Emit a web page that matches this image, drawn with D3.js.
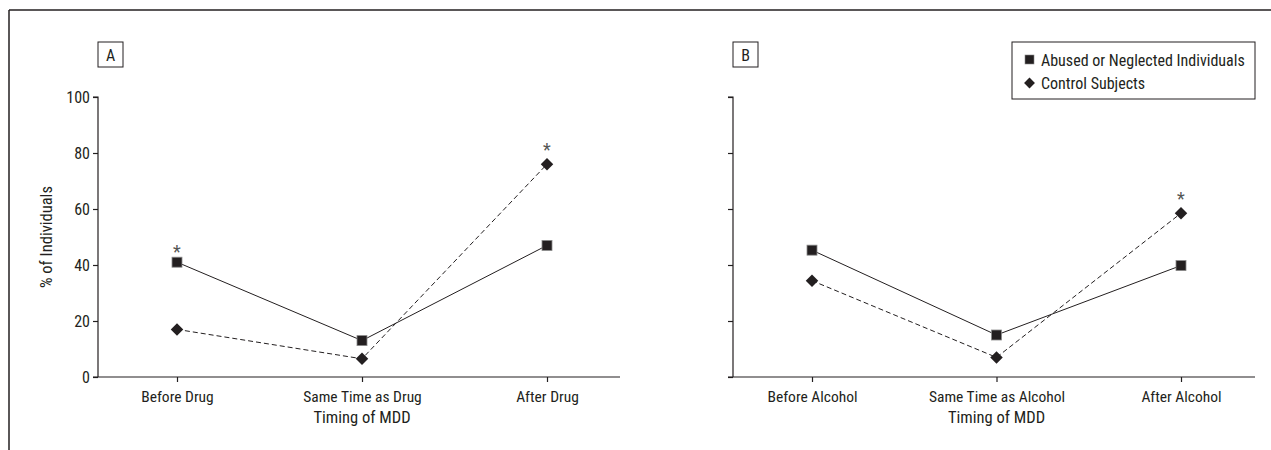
<!DOCTYPE html>
<html><head><meta charset="utf-8">
<script src="https://cdn.jsdelivr.net/npm/d3@7"></script>
<style>
body{margin:0;background:#fff;}
text{font-family:"Liberation Sans Narrow","Arial Narrow","Roboto Condensed",sans-serif;fill:#231f20;}
</style></head>
<body><svg id="c" width="1271" height="450"></svg>
<script>
const categoriesA = ["Before Drug","Same Time as Drug","After Drug"];
const categoriesB = ["Before Alcohol","Same Time as Alcohol","After Alcohol"];
const abusedA = [41, 13, 47];
const controlA = [17, 6.5, 76];
const abusedB = [45.3, 15, 39.8];
const controlB = [34.4, 7, 58.5];
const starsA = [{cat:0, series:"abused"}, {cat:2, series:"control"}];
const starsB = [{cat:2, series:"control"}];
const yTicks = [0,20,40,60,80,100];
const seriesNames = ["Abused or Neglected Individuals","Control Subjects"];
const xTitle = "Timing of MDD";
const yTitle = "% of Individuals";

const svg = d3.select("#c");
const ink = "#231f20";
// outer frame
svg.append("line").attr("x1",9).attr("x2",1271).attr("y1",10).attr("y2",10).attr("stroke",ink).attr("stroke-width",1.5);
svg.append("line").attr("x1",9).attr("x2",9).attr("y1",10).attr("y2",450).attr("stroke",ink).attr("stroke-width",1.5);

const y = d3.scaleLinear().domain([0,100]).range([377,97]);

function panel(opt){
  const g = svg.append("g");
  const x = d3.scalePoint().domain(opt.cats).range([opt.c0,opt.c2]);
  // y axis
  const ya = g.append("g").attr("transform",`translate(${opt.x0},0)`)
    .call(d3.axisLeft(y).tickValues(yTicks).tickSize(5).tickPadding(3).tickFormat(opt.labels?d3.format("d"):""));
  ya.select(".domain").attr("d",`M-5,${y(100)}H0V${y(0)}`);
  ya.selectAll("line,path").attr("stroke",ink).attr("stroke-width",1.2);
  ya.selectAll("text").attr("font-size",16);
  // x axis
  const xa = g.append("g").attr("transform",`translate(0,${y(0)})`)
    .call(d3.axisBottom(x).tickSize(5).tickPadding(6));
  xa.select(".domain").attr("d",`M${opt.x0-5},0H${opt.x1}`);
  xa.selectAll("line,path").attr("stroke",ink).attr("stroke-width",1.2);
  xa.selectAll("text").attr("font-size",15.5).attr("dy","0.9em");
  // titles
  g.append("text").attr("x",x(opt.cats[1])).attr("y",423).attr("text-anchor","middle").attr("font-size",16.5).text(xTitle);
  if(opt.labels){
    g.append("text").attr("transform",`translate(52,${(y(0)+y(100))/2}) rotate(-90)`).attr("text-anchor","middle").attr("font-size",16.5).text(yTitle);
  }
  // panel letter box
  g.append("rect").attr("x",opt.x0).attr("y",42).attr("width",25).attr("height",25).attr("fill","none").attr("stroke",ink).attr("stroke-width",1);
  g.append("text").attr("x",opt.x0+12.5).attr("y",61).attr("text-anchor","middle").attr("font-size",16).text(opt.letter);
  // lines
  const line = d3.line().x((d,i)=>x(opt.cats[i])).y(d=>y(d));
  g.append("path").attr("d",line(opt.control)).attr("fill","none").attr("stroke",ink).attr("stroke-width",1).attr("stroke-dasharray","5,3");
  g.append("path").attr("d",line(opt.abused)).attr("fill","none").attr("stroke",ink).attr("stroke-width",1);
  // markers
  g.selectAll(".sq").data(opt.abused).join("rect")
    .attr("x",(d,i)=>x(opt.cats[i])-5).attr("y",d=>y(d)-5).attr("width",10).attr("height",10)
    .attr("fill",ink).attr("stroke","#8a8a8a").attr("stroke-width",0.8);
  const diamond = d3.symbol().type(d3.symbolDiamond2).size(100);
  g.selectAll(".dm").data(opt.control).join("path")
    .attr("d",diamond).attr("transform",(d,i)=>`translate(${x(opt.cats[i])},${y(d)})`)
    .attr("fill",ink);
  // stars
  g.selectAll(".st").data(opt.stars).join("text")
    .attr("x",d=>x(opt.cats[d.cat]))
    .attr("y",d=>d.series==="abused" ? y(opt.abused[d.cat])-4 : y(opt.control[d.cat])-8)
    .attr("text-anchor","middle").attr("font-size",18).style("fill","#555").text("*");
  return g;
}

panel({cats:categoriesA, x0:98, x1:620, c0:177, c2:547, abused:abusedA, control:controlA, stars:starsA, labels:true, letter:"A"});
panel({cats:categoriesB, x0:733, x1:1255, c0:812, c2:1181, abused:abusedB, control:controlB, stars:starsB, labels:false, letter:"B"});

// legend
const lg = svg.append("g");
lg.append("rect").attr("x",1012).attr("y",42).attr("width",243).attr("height",57).attr("fill","none").attr("stroke",ink).attr("stroke-width",1);
lg.append("rect").attr("x",1025).attr("y",55).attr("width",9).attr("height",9).attr("fill",ink).attr("stroke","#888").attr("stroke-width",0.6);
lg.append("path").attr("d",d3.symbol().type(d3.symbolDiamond2).size(75)).attr("transform","translate(1029.5,83)").attr("fill",ink);
lg.selectAll(".lt").data(seriesNames).join("text")
  .attr("x",1041).attr("y",(d,i)=>65.5+i*23).attr("font-size",16).text(d=>d);
</script></body></html>
